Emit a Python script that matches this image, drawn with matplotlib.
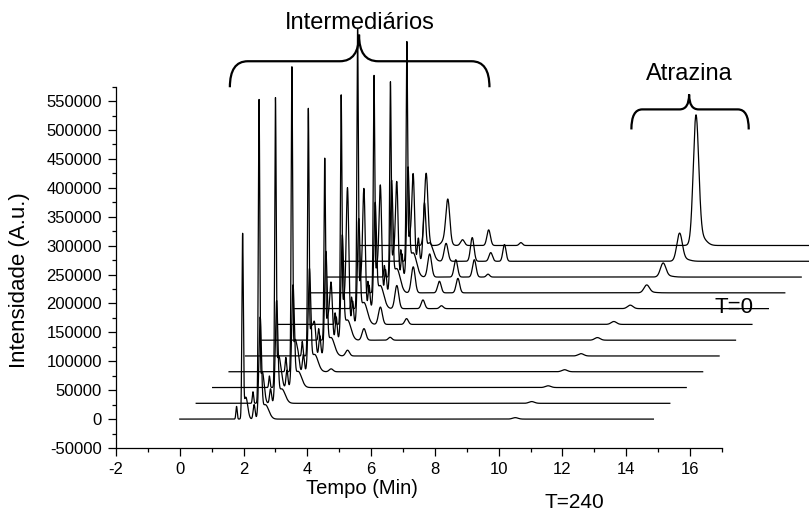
import numpy as np
import matplotlib.pyplot as plt
from matplotlib.path import Path
from matplotlib.patches import PathPatch
from matplotlib.ticker import MultipleLocator

plt.rcParams['font.family'] = ['Liberation Sans', 'DejaVu Sans']
plt.rcParams['axes.unicode_minus'] = False

# stacked chromatograms, bottom run (T=240) to top run (T=0)
n_runs = 12
x_step = 0.515      # min shift between runs
y_step = 27300      # intensity shift between runs
run_length = 14.85  # min

# peak table: retention time (min) and width (sigma, min)
peak_rt = [1.78, 1.97, 2.07, 2.06, 2.17, 2.33, 2.52, 2.68, 2.74, 3.20, 4.02, 4.60, 5.03, 10.52, 10.66]
peak_sd = [0.02, 0.022, 0.06, 0.055, 0.04, 0.03, 0.04, 0.11, 0.06, 0.06, 0.055, 0.055, 0.05, 0.085, 0.16]

# peak heights per run (rows: bottom -> top)
peak_h = [
    [22000, 312000, 38000, 0, 0, 25000, 168000, 25000, 0, 0, 0, 0, 0, 2500, 0],
    [20000, 512000, 55000, 0, 0, 25000, 169000, 25000, 0, 0, 0, 0, 0, 3000, 0],
    [20000, 488000, 55000, 0, 10000, 30000, 168000, 28000, 0, 0, 0, 0, 0, 3000, 0],
    [25000, 514000, 55000, 0, 20000, 30000, 168000, 30000, 0, 5000, 0, 0, 0, 3500, 0],
    [25000, 416000, 50000, 0, 45000, 35000, 170000, 32000, 0, 10000, 0, 0, 0, 4000, 0],
    [20000, 305000, 40000, 0, 90000, 40000, 170000, 35000, 0, 20000, 5000, 0, 0, 4500, 0],
    [20000, 386000, 45000, 0, 225000, 40000, 170000, 38000, 0, 30000, 10000, 0, 0, 5000, 0],
    [20000, 472000, 50000, 0, 195000, 40000, 170000, 40000, 0, 40000, 15000, 5000, 0, 6000, 0],
    [20000, 365000, 45000, 0, 175000, 40000, 180000, 42000, 0, 45000, 20000, 25000, 0, 13000, 1000],
    [20000, 328000, 40000, 0, 155000, 40000, 176000, 42000, 0, 40000, 30000, 30000, 5000, 23000, 2000],
    [20000, 369000, 45000, 0, 140000, 40000, 90000, 32000, 0, 31000, 41000, 15000, 29000, 46000, 4000],
    [0, 0, 0, 125000, 0, 0, 0, 12000, 70000, 10000, 27000, 0, 5000, 215000, 16000],
]

fig = plt.figure(figsize=(8.09, 5.12), dpi=100)
ax = fig.add_axes([0.1434, 0.125, 0.749, 0.7057])

t = np.linspace(0, run_length, 8000)
for i in range(n_runs):
    y = np.zeros_like(t)
    for rt, sd, h in zip(peak_rt, peak_sd, peak_h[i]):
        y += h * np.exp(-0.5 * ((t - rt) / sd) ** 2)
    ax.plot(t + i * x_step, y + i * y_step, color='black', lw=0.9, clip_on=False)


def brace(x0, x1, xc, y_low, y_mid, y_top, r, rc):
    verts = [(x0, y_low), (x0, y_mid), (x0 + r, y_mid),
             (xc - rc, y_mid), (xc, y_mid), (xc, y_top),
             (xc, y_mid), (xc + rc, y_mid),
             (x1 - r, y_mid), (x1, y_mid), (x1, y_low)]
    codes = [Path.MOVETO, Path.CURVE3, Path.CURVE3, Path.LINETO,
             Path.CURVE3, Path.CURVE3, Path.CURVE3, Path.CURVE3,
             Path.LINETO, Path.CURVE3, Path.CURVE3]
    ax.add_patch(PathPatch(Path(verts, codes), fill=False, lw=1.6,
                           color='black', clip_on=False))


brace(1.57, 9.71, 5.62, 574000, 619000, 665000, 0.56, 0.6)
brace(14.16, 17.84, 15.97, 501000, 535700, 561500, 0.34, 0.3)

ax.text(5.64, 685000, 'Intermediários', ha='center', va='center', fontsize=17)
ax.text(15.97, 597000, 'Atrazina', ha='center', va='center', fontsize=17)
ax.text(17.37, 193000, 'T=0', ha='center', va='center', fontsize=16)
fig.text(574 / 809, 1 - 503 / 512, 'T=240', ha='center', va='center', fontsize=15)
fig.text(362 / 809, 1 - 489 / 512, 'Tempo (Min)', ha='center', va='center', fontsize=14.5)
fig.text(20 / 809, 1 - 280 / 512, 'Intensidade (A.u.)', ha='center', va='center',
         rotation=90, fontsize=16)

ax.set_xlim(-2, 17)
ax.set_ylim(-50000, 575000)
ax.set_xticks(np.arange(-2, 17, 2))
ax.set_yticks(np.arange(-50000, 550001, 50000))
ax.set_yticklabels([str(v) for v in range(-50000, 550001, 50000)])
ax.xaxis.set_minor_locator(MultipleLocator(1))
ax.yaxis.set_minor_locator(MultipleLocator(25000))
ax.tick_params(which='major', direction='out', length=6, width=0.9, labelsize=12, pad=4)
ax.tick_params(which='minor', direction='out', length=3, width=0.9)
for s in ['top', 'right']:
    ax.spines[s].set_visible(False)
for s in ['left', 'bottom']:
    ax.spines[s].set_linewidth(0.9)

fig.savefig('out.png', dpi=100)
